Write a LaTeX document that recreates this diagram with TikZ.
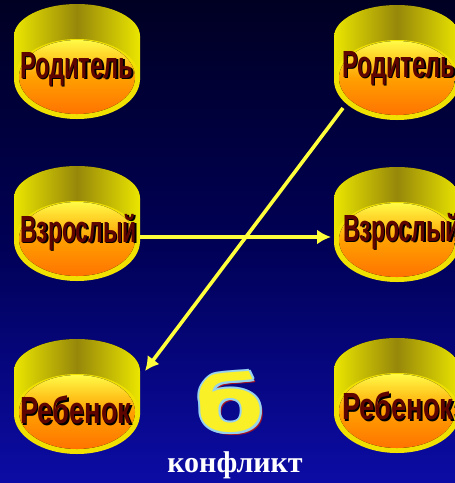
\documentclass[tikz,border=0pt]{standalone}
\usepackage{fontspec}
\usetikzlibrary{arrows.meta}
\newfontfamily\labfont{Liberation Sans}
\newfontfamily\capfont{Liberation Serif}
\newfontfamily\bigfont{DejaVu Sans}
\definecolor{bgtop}{RGB}{0,0,35}
\definecolor{bgmid}{RGB}{0,0,85}
\definecolor{bgbot}{RGB}{12,12,165}
\definecolor{wallY}{RGB}{235,230,0}
\definecolor{wallD}{RGB}{150,135,10}
\definecolor{faceT}{RGB}{255,250,70}
\definecolor{faceM}{RGB}{255,160,0}
\definecolor{faceB}{RGB}{255,115,0}
\definecolor{rimY}{RGB}{240,225,0}
\definecolor{labred}{RGB}{95,5,0}
\definecolor{arrY}{RGB}{255,255,60}
\definecolor{bY}{RGB}{250,240,40}
\definecolor{bB}{RGB}{150,210,240}
\definecolor{bR}{RGB}{170,20,30}
\tikzset{
  wall/.style={left color=wallY,right color=wallY,middle color=wallD},
  rimc/.style={fill=rimY},
  face/.style={top color=faceT,bottom color=faceB,middle color=faceM},
  lab/.style={font=\labfont\bfseries\fontsize{31}{31}\selectfont,inner sep=0pt,anchor=west,xscale=0.74,yscale=1.22,text=labred},
  labsh/.style={lab,text=black},
  wideR/.style={xscale=1.03},
  wideC/.style={xscale=1.19},
  conn/.style={draw=arrY,line width=3.6pt,-{Latex[length=14pt,width=15pt]}},
  bglyph/.style={font=\bigfont\bfseries\fontsize{76}{76}\selectfont,inner sep=0pt,xscale=1.3},
}
\newcommand\cylshape[2]{%
  \fill[wall] (#1,#2+32) ellipse[x radius=63,y radius=32];
  \fill[wall] (#1-63,#2+32) rectangle (#1+63,#2+75);
  \fill[rimc] (#1,#2+75) ellipse[x radius=63,y radius=40];
  \fill[face] (#1,#2+73) ellipse[x radius=58,y radius=37];
}
\begin{document}
\begin{tikzpicture}[x=1pt,y=-1pt]
\useasboundingbox (0,0) rectangle (455,483);
\clip (0,0) rectangle (455,483);
\fill[top color=bgtop,bottom color=bgbot,middle color=bgmid] (0,0) rectangle (455,483);
% shapes
\cylshape{77}{4}
\cylshape{77}{166}
\cylshape{77}{339}
\cylshape{397}{5}
\cylshape{397}{167}
\cylshape{397}{338}
% labels
\node[labsh,wideR] (pLs) at (21.5,70.5) {Родитель};
\node[lab,wideR]   (pL)  at (20,69) {Родитель};
\node[labsh] (aLs) at (21.5,233.5) {Взрослый};
\node[lab]   (aL)  at (20,232) {Взрослый};
\node[labsh,wideC] (cLs) at (21.5,411.5) {Ребенок};
\node[lab,wideC]   (cL)  at (20,410) {Ребенок};
\node[labsh,wideR] (pRs) at (343.5,69.5) {Родитель};
\node[lab,wideR]   (pR)  at (342,68) {Родитель};
\node[labsh] (aRs) at (344.5,232.5) {Взрослый};
\node[lab]   (aR)  at (343,231) {Взрослый};
\node[labsh,wideC] (cRs) at (343.5,407.5) {Ребенок};
\node[lab,wideC]   (cR)  at (342,406) {Ребенок};
% connector ends
\coordinate (aLe) at (140,237);
\coordinate (aRe) at (331,237);
\coordinate (pRe) at (343,108);
\coordinate (cLe) at (145,371);
\draw[conn] (aLe) -- (aRe);
\draw[conn] (pRe) -- (cLe);
% big letter
\node[bglyph,text=bR] (bsh) at (233,405) {б};
\foreach \dx/\dy [count=\i] in {-2/0,2/0,0/-2,0/2,-1.5/-1.5,1.5/1.5,-1.5/1.5,1.5/-1.5}
  \node[bglyph,text=bB] (bo\i) at (230+\dx,402+\dy) {б};
\node[bglyph,text=bY] (bl) at (230,402) {б};
\node[font=\capfont\bfseries\fontsize{30}{30}\selectfont,text=white,inner sep=0pt] (cap) at (235,465) {конфликт};
\end{tikzpicture}
\end{document}
